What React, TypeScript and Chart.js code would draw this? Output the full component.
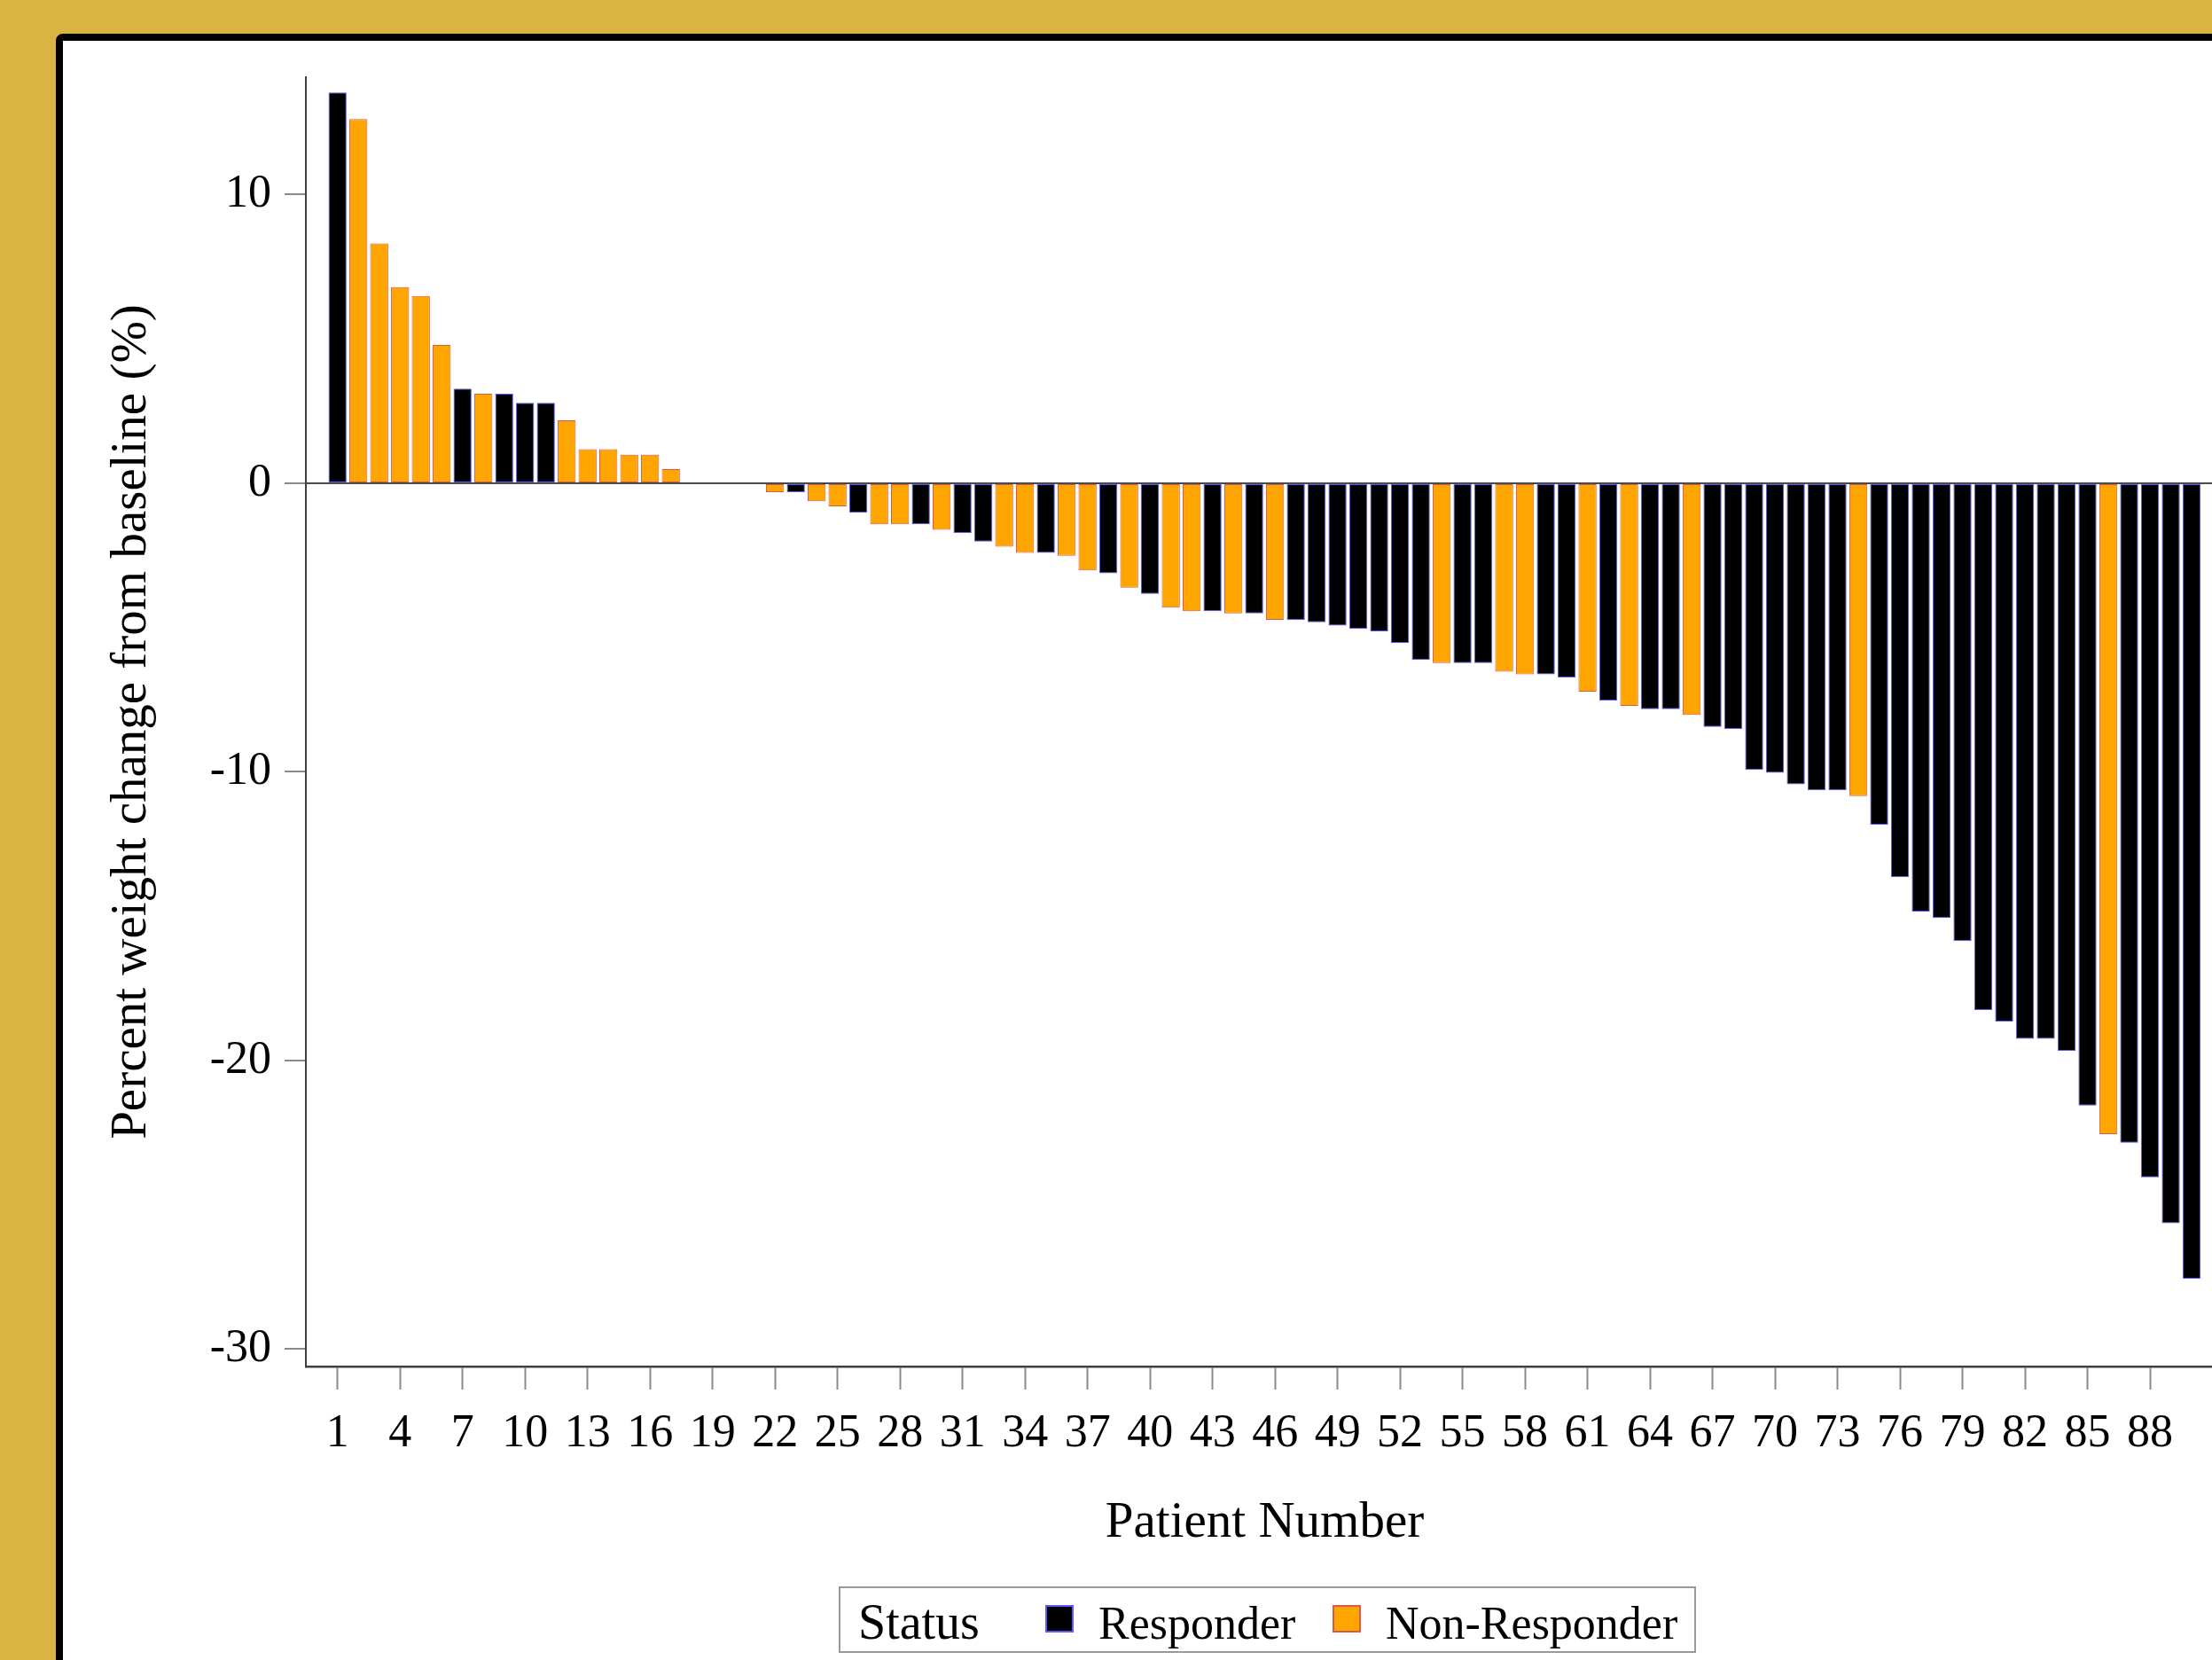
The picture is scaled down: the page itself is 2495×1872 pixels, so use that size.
import React, { useEffect, useRef } from 'react';
import { Chart, registerables } from 'chart.js';

Chart.register(...registerables);

// ---- Data ----
const weightChange: number[] = [
  13.54, 12.62, 8.31, 6.8, 6.49, 4.79, 3.28, 3.1, 3.1, 2.79,
  2.79, 2.18, 1.18, 1.18, 0.99, 0.99, 0.49, 0, 0, 0,
  0, -0.31, -0.31, -0.62, -0.8, -1.02, -1.42, -1.42, -1.42, -1.61,
  -1.72, -2.02, -2.2, -2.41, -2.41, -2.51, -3.02, -3.12, -3.62, -3.83,
  -4.31, -4.43, -4.43, -4.51, -4.51, -4.73, -4.74, -4.82, -4.93, -5.04,
  -5.13, -5.53, -6.12, -6.23, -6.23, -6.23, -6.53, -6.62, -6.62, -6.73,
  -7.22, -7.53, -7.71, -7.83, -7.83, -8.03, -8.44, -8.51, -9.93, -10.03,
  -10.43, -10.64, -10.64, -10.84, -11.83, -13.64, -14.84, -15.06, -15.86, -18.25,
  -18.65, -19.25, -19.25, -19.66, -21.56, -22.55, -22.85, -24.05, -25.64, -27.56,
];

// R = Responder, N = Non-Responder
const status: string[] = [
  'R', 'N', 'N', 'N', 'N', 'N', 'R', 'N', 'R', 'R',
  'R', 'N', 'N', 'N', 'N', 'N', 'N', 'N', 'N', 'N',
  'N', 'N', 'R', 'N', 'N', 'R', 'N', 'N', 'R', 'N',
  'R', 'R', 'N', 'N', 'R', 'N', 'N', 'R', 'N', 'R',
  'N', 'N', 'R', 'N', 'R', 'N', 'R', 'R', 'R', 'R',
  'R', 'R', 'R', 'N', 'R', 'R', 'N', 'N', 'R', 'R',
  'N', 'R', 'N', 'R', 'R', 'N', 'R', 'R', 'R', 'R',
  'R', 'R', 'R', 'N', 'R', 'R', 'R', 'R', 'R', 'R',
  'R', 'R', 'R', 'R', 'R', 'N', 'R', 'R', 'R', 'R',
];

const xTickValues: number[] = [1, 4, 7, 10, 13, 16, 19, 22, 25, 28, 31, 34, 37, 40, 43, 46, 49, 52, 55, 58, 61, 64, 67, 70, 73, 76, 79, 82, 85, 88];
const yTickValues: number[] = [-30, -20, -10, 0, 10];

const seriesNames: string[] = ['Responder', 'Non-Responder'];
const seriesCodes: string[] = ['R', 'N'];
const legendTitle = 'Status';
const xAxisTitle = 'Patient Number';
const yAxisTitle = 'Percent weight change from baseline (%)';

// ---- Styles ----
const FONT = "'Liberation Serif', 'Times New Roman', Times, serif";
const fills = ['#000000', '#FFA500'];
const borders = ['#5a5aff', '#d95a4a'];

const pointsFor = (code: string) =>
  weightChange
    .map((v, i) => ({ x: i + 1, y: v, s: status[i] }))
    .filter((p) => p.s === code)
    .map((p) => ({ x: p.x, y: p.y }));

const legendPlugin = {
  id: 'statusLegend',
  afterDraw(chart: any) {
    const ctx = chart.ctx as CanvasRenderingContext2D;
    ctx.save();
    ctx.strokeStyle = '#9a9a9a';
    ctx.lineWidth = 2;
    ctx.strokeRect(947, 1790, 965, 73);
    ctx.textBaseline = 'alphabetic';
    ctx.textAlign = 'left';
    ctx.fillStyle = '#000';
    ctx.font = `56px ${FONT}`;
    ctx.fillText(legendTitle, 968, 1848);
    const swatchX = [1179, 1503];
    const textX = [1239, 1563];
    chart.data.datasets.forEach((ds: any, i: number) => {
      ctx.fillStyle = ds.backgroundColor;
      ctx.fillRect(swatchX[i], 1810, 32, 31);
      ctx.strokeStyle = ds.borderColor;
      ctx.lineWidth = 2;
      ctx.strokeRect(swatchX[i] + 1, 1811, 30, 29);
      ctx.fillStyle = '#000';
      ctx.font = `52px ${FONT}`;
      ctx.fillText(ds.label, textX[i], 1848);
    });
    ctx.restore();
  },
};

export default function App() {
  const ref = useRef<HTMLCanvasElement>(null);

  useEffect(() => {
    const canvas = ref.current;
    if (!canvas) return;
    Chart.defaults.font.family = FONT;
    Chart.defaults.color = '#000';

    const chart = new Chart(canvas, {
      type: 'bar',
      data: {
        datasets: seriesNames.map((name, i) => ({
          label: name,
          data: pointsFor(seriesCodes[i]),
          backgroundColor: fills[i],
          borderColor: borders[i],
          borderWidth: 1,
          borderSkipped: false,
          grouped: false,
          barPercentage: 0.865,
          categoryPercentage: 1,
        })) as any,
      },
      options: {
        responsive: false,
        animation: false,
        devicePixelRatio: 1,
        layout: { padding: { left: 115, top: 87, right: 12, bottom: 119.4 } },
        plugins: {
          legend: { display: false },
          tooltip: { enabled: false },
        },
        scales: {
          x: {
            type: 'linear',
            position: 'bottom',
            offset: false,
            min: -0.52,
            max: 91.53,
            afterBuildTicks: (s: any) => {
              s.ticks = xTickValues.map((v) => ({ value: v }));
            },
            afterFit: (s: any) => {
              s.height = 211.6;
            },
            grid: {
              offset: false,
              drawOnChartArea: false,
              drawTicks: true,
              tickLength: 26,
              tickColor: '#8a8a8a',
              tickWidth: 2,
            },
            border: { display: true, color: '#3f3f3f', width: 2.5 },
            ticks: {
              autoSkip: false,
              maxRotation: 0,
              padding: 19,
              color: '#000',
              font: { family: FONT, size: 52 },
              callback: (v: any) => String(v),
            },
            title: {
              display: true,
              text: xAxisTitle,
              color: '#000',
              padding: 0,
              font: { family: FONT, size: 57 },
            },
          },
          y: {
            type: 'linear',
            min: -30.6,
            max: 14.07,
            afterBuildTicks: (s: any) => {
              s.ticks = yTickValues.map((v) => ({ value: v }));
            },
            afterFit: (s: any) => {
              s.width = 230;
            },
            grid: {
              drawOnChartArea: true,
              color: (c: any) => (c.tick && c.tick.value === 0 ? '#4a4a4a' : 'rgba(0,0,0,0)'),
              lineWidth: 2,
              tickLength: 24,
              tickColor: '#8a8a8a',
              tickWidth: 2,
            },
            border: { display: true, color: '#3f3f3f', width: 2 },
            ticks: {
              padding: 15,
              color: '#000',
              font: { family: FONT, size: 52 },
              callback: (v: any) => String(v),
            },
            title: {
              display: true,
              text: yAxisTitle,
              color: '#000',
              padding: 0,
              font: { family: FONT, size: 57 },
            },
          },
        },
      } as any,
      plugins: [legendPlugin],
    });

    return () => chart.destroy();
  }, []);

  return (
    <div
      style={{
        position: 'fixed',
        left: 0,
        top: 0,
        width: 2495,
        height: 1872,
        overflow: 'hidden',
        background: '#D9B443',
      }}
    >
      <div
        style={{
          position: 'absolute',
          left: 63,
          top: 38,
          width: 2650,
          height: 2000,
          boxSizing: 'border-box',
          border: '8px solid #000',
          borderRadius: 8,
          background: '#ffffff',
        }}
      />
      <canvas
        ref={ref}
        width={2520}
        height={1872}
        style={{ position: 'absolute', left: 0, top: 0, width: 2520, height: 1872 }}
      />
    </div>
  );
}
